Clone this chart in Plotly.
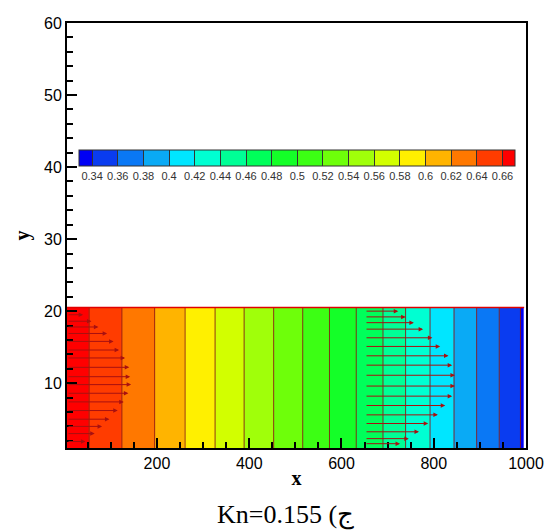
import plotly.graph_objects as go

# ---- data ----
levels = [0.66, 0.64, 0.62, 0.60, 0.58, 0.56, 0.54, 0.52, 0.50,
          0.48, 0.46, 0.44, 0.42, 0.40, 0.38, 0.36, 0.34]
x_contour = [53, 124, 195, 261, 326, 389, 453, 516, 574,
             632, 690, 739, 792, 844, 893, 942, 988]
domain_x = [0, 996]
domain_y = [0, 20.5]
p_band = [0.665, 0.65, 0.63, 0.61, 0.59, 0.57, 0.55, 0.53, 0.51,
          0.49, 0.47, 0.45, 0.43, 0.41, 0.39, 0.37, 0.35, 0.335]
cbar_bounds = [0.33, 0.34, 0.36, 0.38, 0.40, 0.42, 0.44, 0.46, 0.48, 0.50,
               0.52, 0.54, 0.56, 0.58, 0.60, 0.62, 0.64, 0.66, 0.67]
band_colors = ["#0000F5", "#0A3CF0", "#0A78F5", "#0AAAF5", "#00E6FF", "#00FFD2",
               "#00FF96", "#00FF5A", "#14FF28", "#3CFF14", "#6EFF0A", "#A0FF0A",
               "#D2FF00", "#FFF000", "#FFB400", "#FF7800", "#FF3C00", "#FF0000"]

# velocity vectors: two columns
x_left_col = 5
y_left = [19.5, 18.6, 17.8, 16.9, 15.8, 14.6, 13.5, 12.2, 10.9, 9.8, 8.6, 7.4, 6.2, 5.0, 4.0, 3.0, 1.9]
u_left = [35, 53, 68, 87, 101, 113, 126, 135, 137, 139, 133, 123, 110, 92, 76, 60, 40]
x_right_col = 651
y_right = [20.0, 19.2, 18.4, 17.5, 16.3, 15.1, 13.8, 12.5, 11.1, 9.6, 8.2, 6.9, 5.6, 4.4, 3.25, 2.3, 1.6]
u_right = [72, 88, 106, 126, 146, 163, 181, 189, 195, 195, 189, 174, 158, 137, 117, 95, 76]

x_ticks = [200, 400, 600, 800, 1000]
y_ticks = [10, 20, 30, 40, 50, 60]
caption = "Kn=0.155 (ج"

# ---- build figure ----
zmin, zmax = cbar_bounds[0], cbar_bounds[-1]
colorscale = []
for k, c in enumerate(band_colors):
    colorscale.append([(cbar_bounds[k] - zmin) / (zmax - zmin), c])
    colorscale.append([(cbar_bounds[k + 1] - zmin) / (zmax - zmin), c])

x_edges = [domain_x[0]] + x_contour + [domain_x[1]]
cb_ticks = sorted(levels)

fig = go.Figure()
fig.add_trace(go.Heatmap(
    x=x_edges, y=domain_y, z=[p_band],
    zmin=zmin, zmax=zmax, colorscale=colorscale, hoverinfo="skip",
    colorbar=dict(
        orientation="h", x=0.0268, xanchor="left", y=0.702, yanchor="top",
        len=0.949, lenmode="fraction", thickness=16, xpad=0, ypad=0,
        outlinecolor="#333333", outlinewidth=1,
        tickmode="array", tickvals=cb_ticks, ticktext=[f"{v:g}" for v in cb_ticks],
        ticks="inside", ticklen=16, tickcolor="#333333", tickwidth=1,
        tickfont=dict(family="Liberation Sans, Arial", size=11, color="#333333"),
    ),
))

lx, ly = [], []
for xc in x_contour:
    lx += [xc, xc, None]
    ly += [domain_y[0], domain_y[1], None]
fig.add_trace(go.Scatter(x=lx, y=ly, mode="lines",
                         line=dict(color="rgba(140,20,20,0.85)", width=1),
                         hoverinfo="skip", showlegend=False))
fig.add_trace(go.Scatter(x=[domain_x[0], domain_x[1]],
                         y=[domain_y[1], domain_y[1]], mode="lines",
                         line=dict(color="#E00000", width=1.5),
                         hoverinfo="skip", showlegend=False))

annotations = []
for x0, ys, us in [(x_left_col, y_left, u_left), (x_right_col, y_right, u_right)]:
    for yv, uv in zip(ys, us):
        annotations.append(dict(
            x=x0 + uv, y=yv, ax=x0, ay=yv, xref="x", yref="y", axref="x", ayref="y",
            text="", showarrow=True, arrowhead=2, arrowsize=0.9, arrowwidth=1,
            arrowcolor="#A81010", standoff=0, startstandoff=0))

annotations.append(dict(
    text=caption, x=0.475, y=-0.158, xref="paper", yref="paper",
    xanchor="center", yanchor="middle", showarrow=False,
    font=dict(family="Liberation Serif, Times New Roman", size=26, color="black")))

axis_common = dict(
    showline=True, linecolor="black", linewidth=2, mirror=True,
    ticks="inside", ticklen=10, tickwidth=2, tickcolor="black",
    showgrid=False, zeroline=False, automargin=False,
    tickfont=dict(family="Liberation Sans, Arial", size=16, color="black"),
)

fig.update_layout(
    width=548, height=531,
    margin=dict(l=67, r=22, t=23, b=83),
    paper_bgcolor="white", plot_bgcolor="white",
    showlegend=False,
    annotations=annotations,
    xaxis=dict(axis_common, range=[5, 1000], tickmode="array", tickvals=x_ticks,
               minor=dict(dtick=50, tick0=0, ticks="inside", ticklen=6, tickwidth=1.5, tickcolor="black"),
               title=dict(text="<b>x</b>", standoff=0,
                          font=dict(family="Liberation Serif, Times New Roman", size=20, color="black"))),
    yaxis=dict(axis_common, range=[1, 60], tickmode="array", tickvals=y_ticks,
               minor=dict(dtick=2, tick0=0, ticks="inside", ticklen=6, tickwidth=1.5, tickcolor="black"),
               title=dict(text="<b>y</b>", standoff=9,
                          font=dict(family="Liberation Serif, Times New Roman", size=20, color="black"))),
)

fig.write_html("out.html", config={"displayModeBar": False},
               post_script="document.body.style.margin='0px';")
